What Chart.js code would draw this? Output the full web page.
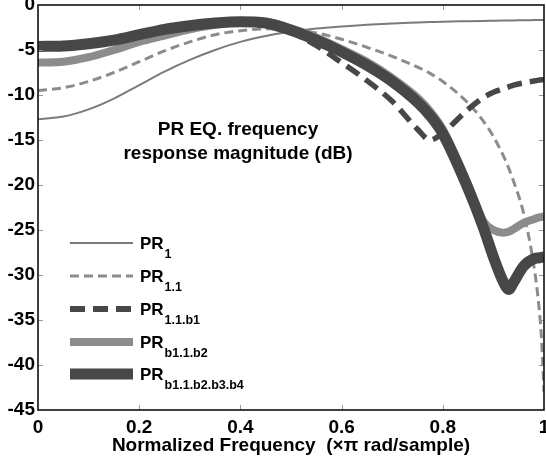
<!DOCTYPE html>
<html>
<head>
<meta charset="utf-8">
<script src="https://cdn.jsdelivr.net/npm/chart.js@4/dist/chart.umd.min.js"></script>
<style>
html, body { margin: 0; padding: 0; background: #fff; }
#wrap { width: 546px; height: 459px; }
</style>
</head>
<body>
<div id="wrap"><canvas id="chart-pr"></canvas></div>
<script>
// normalized frequency (x pi rad/sample)
var freq = [0, 0.05, 0.1, 0.15, 0.2, 0.25, 0.3, 0.35, 0.4, 0.45, 0.5, 0.55, 0.6, 0.65, 0.7, 0.75, 0.775, 0.8, 0.85, 0.88, 0.9, 0.92, 0.93, 0.94, 0.96, 0.98, 0.99, 0.995, 1];

// magnitude in dB
var pr1 = [-12.7, -12.4, -11.6, -10.4, -8.9, -7.4, -6.1, -5.0, -4.1, -3.45, -2.95, -2.6, -2.4, -2.2, -2.05, -1.95, -1.9, -1.85, -1.8, -1.77, -1.75, -1.73, -1.72, -1.71, -1.7, -1.68, -1.67, -1.67, -1.67];
var pr11 = [-9.5, -9.2, -8.5, -7.5, -6.3, -5.1, -4.1, -3.3, -2.85, -2.65, -2.7, -3.1, -3.8, -4.7, -5.7, -6.9, -7.6, -8.5, -10.9, -12.9, -14.6, -16.8, -18.1, -19.6, -23.2, -29.0, -33.5, -37.0, -43.0];
var pr11b1 = [-4.6, -4.55, -4.3, -3.9, -3.3, -2.7, -2.3, -2.0, -1.85, -2.0, -3.0, -4.5, -6.4, -8.4, -10.7, -13.8, -15.0, -14.2, -11.6, -10.3, -9.7, -9.3, -9.1, -8.9, -8.65, -8.45, -8.35, -8.3, -8.3];
var prb2 = [-6.4, -6.3, -5.8, -5.0, -4.1, -3.4, -2.7, -2.2, -1.9, -1.9, -2.6, -3.6, -4.9, -6.3, -8.1, -10.3, -11.8, -13.8, -19.9, -24.0, -25.0, -25.3, -25.2, -24.9, -24.2, -23.8, -23.6, -23.55, -23.5];
var prb4 = [-4.6, -4.55, -4.3, -3.9, -3.3, -2.7, -2.3, -2.0, -1.85, -2.0, -2.8, -3.9, -5.2, -6.7, -8.5, -10.8, -12.3, -14.3, -20.4, -24.7, -28.0, -30.8, -31.6, -30.8, -29.0, -28.2, -28.1, -28.05, -28.0];

var xTicks = [0, 0.2, 0.4, 0.6, 0.8, 1];
var yTicks = [0, -5, -10, -15, -20, -25, -30, -35, -40, -45];

var seriesNames = ['1', '1.1', '1.1.b1', 'b1.1.b2', 'b1.1.b2.b3.b4'];
var seriesValues = [pr1, pr11, pr11b1, prb2, prb4];
var seriesColors = ['#7a7a7a', '#8c8c8c', '#474747', '#8c8c8c', '#474747'];
var seriesWidths = [2, 3, 5.5, 8, 11];
var seriesDash = [[], [9, 5], [15, 8], [], []];
// lower order is painted on top
var seriesOrder = [5, 4, 1, 3, 2];

var titleLines = ['PR EQ. frequency', 'response magnitude (dB)'];
var FONT = '"Liberation Sans", Arial, sans-serif';

function toPoints(vals) {
    var pts = [];
    for (var i = 0; i < freq.length; i++) {
        pts.push({ x: freq[i], y: vals[i] });
    }
    return pts;
}

var datasets = [];
for (var i = 0; i < seriesValues.length; i++) {
    datasets.push({
        label: 'PR' + seriesNames[i],
        data: toPoints(seriesValues[i]),
        borderColor: seriesColors[i],
        borderWidth: seriesWidths[i],
        borderDash: seriesDash[i],
        borderCapStyle: 'butt',
        borderJoinStyle: 'round',
        cubicInterpolationMode: 'monotone',
        pointRadius: 0,
        fill: false,
        order: seriesOrder[i]
    });
}

// box, inward ticks, inner title and the legend
var matlabLook = {
    id: 'matlabLook',
    afterDraw: function (chart) {
        var ctx = chart.ctx;
        var a = chart.chartArea;
        var xs = chart.scales.x, ys = chart.scales.y;
        ctx.save();

        ctx.strokeStyle = '#9a9a9a';
        ctx.lineWidth = 1;
        ctx.beginPath();
        for (var i = 1; i < xTicks.length - 1; i++) {
            var px = Math.round(xs.getPixelForValue(xTicks[i])) + 0.5;
            ctx.moveTo(px, a.bottom); ctx.lineTo(px, a.bottom - 5);
            ctx.moveTo(px, a.top); ctx.lineTo(px, a.top + 5);
        }
        for (var j = 1; j < yTicks.length - 1; j++) {
            var py = Math.round(ys.getPixelForValue(yTicks[j])) + 0.5;
            ctx.moveTo(a.left, py); ctx.lineTo(a.left + 5, py);
            ctx.moveTo(a.right, py); ctx.lineTo(a.right - 5, py);
        }
        ctx.stroke();

        ctx.strokeStyle = '#111';
        ctx.lineWidth = 1.6;
        ctx.strokeRect(a.left, a.top, a.right - a.left, a.bottom - a.top);

        ctx.fillStyle = '#000';
        ctx.font = 'bold 19px ' + FONT;
        ctx.textAlign = 'center';
        ctx.textBaseline = 'middle';
        ctx.fillText(titleLines[0], 238, 130);
        ctx.fillText(titleLines[1], 238, 154);

        // legend
        var lx0 = 70, lx1 = 133, tx = 140;
        var rowY = [243, 276, 309, 342, 374];
        for (var k = 0; k < seriesNames.length; k++) {
            var y = rowY[k];
            ctx.strokeStyle = seriesColors[k];
            ctx.lineWidth = seriesWidths[k] + (k == 2 ? 0.5 : 0);
            ctx.lineCap = 'butt';
            ctx.setLineDash(seriesDash[k]);
            ctx.beginPath();
            ctx.moveTo(lx0, y);
            ctx.lineTo(lx1, y);
            ctx.stroke();
            ctx.setLineDash([]);

            ctx.fillStyle = '#000';
            ctx.textAlign = 'left';
            ctx.textBaseline = 'alphabetic';
            ctx.font = 'bold 17px ' + FONT;
            ctx.fillText('PR', tx, y + 6);
            var w = ctx.measureText('PR').width;
            ctx.font = 'bold 12.5px ' + FONT;
            ctx.fillText(seriesNames[k], tx + w + 1, y + 15);
        }
        ctx.restore();
    }
};

var ctx1 = document.getElementById('chart-pr').getContext('2d');
var chartPR = new Chart(ctx1, {
    type: 'line',
    data: { datasets: datasets },
    plugins: [matlabLook],
    options: {
        responsive: true,
        maintainAspectRatio: false,
        animation: false,
        layout: { padding: { top: 5, right: 2, left: 0, bottom: 0 } },
        plugins: {
            legend: { display: false },
            tooltip: { enabled: false }
        },
        scales: {
            x: {
                type: 'linear',
                min: 0,
                max: 1,
                afterBuildTicks: function (scale) {
                    scale.ticks = xTicks.map(function (v) { return { value: v }; });
                },
                afterFit: function (scale) {
                    scale.height = 49;
                    scale.paddingLeft = 0;
                    scale.paddingRight = 0;
                },
                grid: { display: false, drawTicks: false },
                border: { display: false },
                ticks: {
                    color: '#000',
                    padding: 6,
                    maxRotation: 0,
                    autoSkip: false,
                    font: { family: FONT, size: 19, weight: 'bold' },
                    callback: function (v) { return String(Math.round(v * 10) / 10); }
                },
                title: {
                    display: true,
                    text: 'Normalized Frequency  (\u00d7\u03c0 rad/sample)',
                    color: '#000',
                    padding: { top: 0, bottom: 2 },
                    font: { family: FONT, size: 19, weight: 'bold' }
                }
            },
            y: {
                type: 'linear',
                min: -45,
                max: 0,
                afterBuildTicks: function (scale) {
                    scale.ticks = yTicks.map(function (v) { return { value: v }; });
                },
                afterFit: function (scale) {
                    scale.width = 38;
                    scale.paddingTop = 0;
                    scale.paddingBottom = 0;
                },
                grid: { display: false, drawTicks: false },
                border: { display: false },
                ticks: {
                    color: '#000',
                    padding: 3,
                    autoSkip: false,
                    font: { family: FONT, size: 19, weight: 'bold' }
                }
            }
        }
    }
});
</script>
</body>
</html>
